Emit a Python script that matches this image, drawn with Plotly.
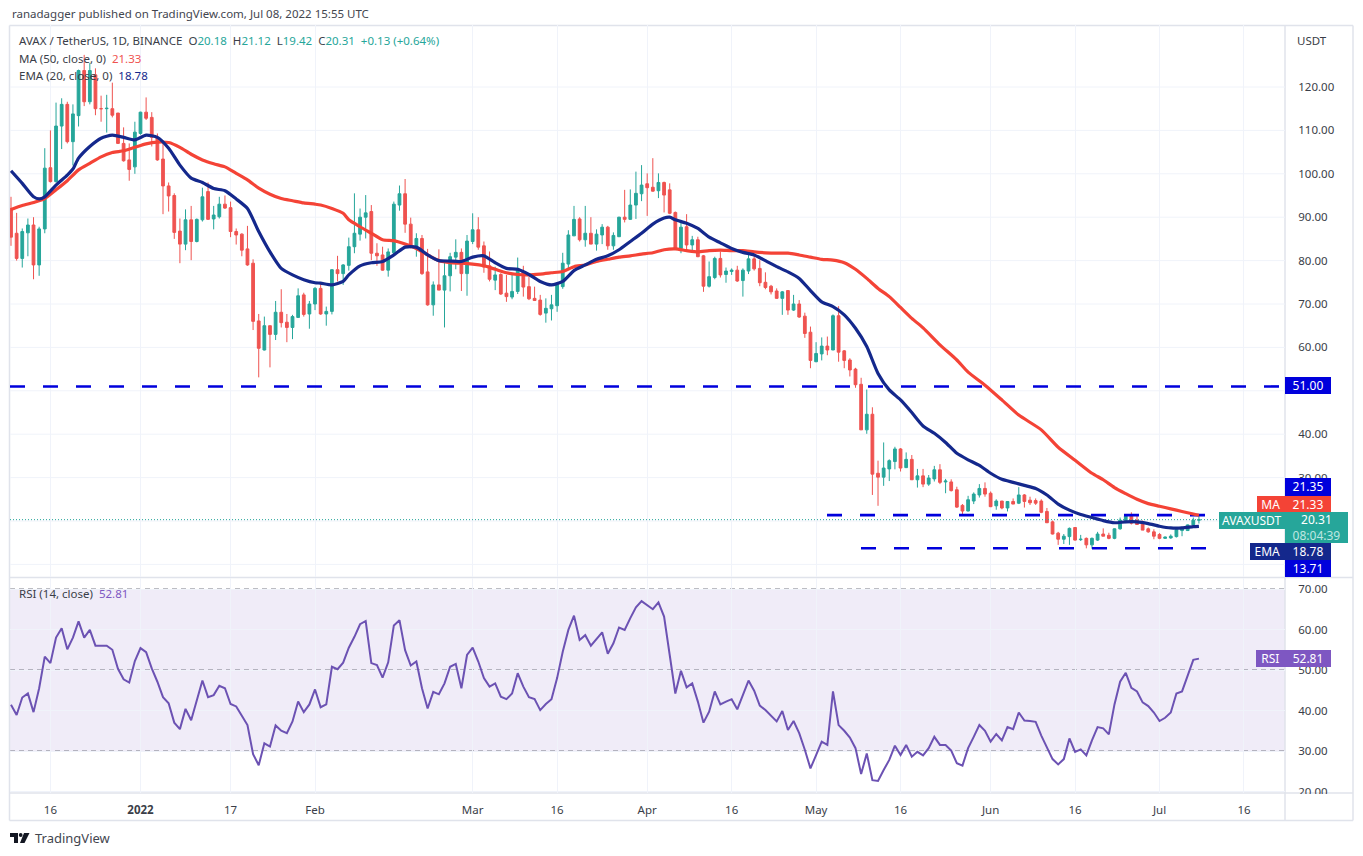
import pandas as pd
import plotly.graph_objects as go

W, H = 1363, 856

opens = [
92,86.3,80.5,86.4,88.2,79,87.3,101.4,98.2,111,
116,107.4,113.4,123.8,116.6,122.8,115,115,115,114,
107,103.2,101.6,109.3,114.2,113,108.4,103.4,97.2,95,
86.8,83.8,89.4,84.4,89.4,95.9,89.6,90.1,93,92.2,
86.7,86.1,82.7,79.4,66.1,59.4,65,63,68.1,65.8,
64.6,66.9,72.1,67.7,70,73.6,67.7,68.3,77.9,77,
78.9,83.2,86.1,90,91.3,81.7,81.3,77.8,81.8,92.8,
95.4,88.4,83.4,85.1,77.4,69.8,74.4,73.2,76.5,80.8,
81.9,77,84.4,87.1,83.4,78.8,75.5,76.8,72.5,71.6,
72.9,77.5,74,71.3,70.9,67.9,68.9,69.6,74,79.2,
85.7,89.6,84.8,86.3,83.8,85.9,87.7,83.4,85.5,90,
89.5,92.8,95.4,97.7,96.9,96.1,98,96.3,91.1,82.8,
87.8,83.6,84.8,81.1,74.1,76.1,80.5,76.8,77.5,77.8,
75.4,77.6,80.4,78.2,75,74.1,73,71.3,73.1,68.6,
70,67.2,63.5,56.7,58.5,60.3,59.4,67.3,59.2,57.1,
55,51.5,41,44.6,31,30.1,32,33.7,36.6,32.3,
34.2,29.5,30.4,28.5,29.7,31.8,29,29,27.2,23.6,
22.3,24.6,26,27.5,26.4,23.5,24.6,23,24.5,24.1,
26,24.8,24.7,24.6,22.2,19.8,17.2,15.8,16.4,18.5,
15.7,16,14.5,15.6,17,16.7,16,18.2,20.1,21.2,
20.2,19.5,18.2,17.5,16.9,16,16.1,16.4,17.8,17.8,
19.1,20.18]

highs = [
94.7,91,87.4,89.7,90,87.8,105.9,110,116.4,117.4,
116.6,116,124,127.4,125.5,124.3,118,118.2,121,114,
110.7,107,112,114.3,117.6,114.2,109.3,107,98,95.5,
89.7,91.8,92.6,89.7,96.8,98,92.6,94.7,95,93.6,
87.4,86.3,88,80.3,67.7,67.1,65,70.7,73.4,67.7,
67.5,73.6,72.6,70.7,73.9,74.6,69.4,78,81.1,79.2,
85.3,95.5,92,95.1,92.8,84,83.2,82.8,93.6,97.3,
98.8,89.9,86.3,85.9,82.7,75.2,82.6,79.8,81.8,84.9,
82.8,85.9,90.9,90,84.4,82.1,78.6,77.1,76.7,76.7,
80.7,78.8,76.2,74,72.1,71.3,72.1,74.8,81.8,87,
92.6,90,92.6,90,87.2,88.4,88,86.5,90.1,96.3,
96.4,100.5,102,100.1,103.6,100.1,98.2,97.8,91.3,89.2,
90.7,85.7,85.5,81.3,79.8,80.9,82.1,78.4,78.2,78.8,
78.2,81.3,81.3,80.1,77.3,74.4,73.6,73,73.2,72.1,
70.9,68,64.8,61.2,62.3,62.5,67.6,69.5,59.4,57.5,
55.3,53,50.3,46.2,33.9,38.1,34.2,37.1,36.8,35.8,
35.2,32,32,30.6,32.7,33.1,29.7,29.6,27.9,23.9,
25.8,26.6,28.5,28.9,26.8,25,24.6,24.6,25.2,27.8,
26.2,25.6,25.2,25,23,20.1,17.5,17,18.5,18.6,
16.8,16.2,16.2,17.5,18.3,17.3,18.3,20.8,21.4,22,
21.5,20.1,18.5,18.1,17.2,16.4,16.9,18.1,18.7,19.2,
20.8,21.12]

lows = [
83.4,80,78.4,81,75.7,76.5,86.3,98,98,105.7,
107,101.9,110.9,115.6,116,113.5,112,109.5,113,106.9,
102.8,98.4,100,109,112.4,106.3,103,90.7,91.3,85,
79.4,82.4,80.1,84.2,89,89.4,87.2,89.7,91.9,85.4,
83.7,81,78.8,64,53.1,59.3,55.4,61.7,64.6,61.2,
61.9,66.9,67.1,64.3,68.6,67.5,65,67.6,75.2,74.4,
77.7,81.7,84.6,85.1,80.1,78.8,77.7,76.3,81.3,91.5,
86.4,82.8,80.9,76.7,69.6,67.3,73.2,64.6,72.9,78,
73,71.9,83.8,82.5,77.2,75.2,73.2,72.1,70.5,71.1,
72.3,71.7,70.9,70.7,67.3,65.7,66.2,68.2,73.5,78.2,
85.7,84.4,83.2,83.8,82.3,83.8,82.5,82.5,85.5,88.8,
89.4,89.6,93.7,90.3,95.9,94.4,91.1,90.7,82.5,81.7,
82.6,82.4,80.8,72.8,73.8,75.7,76.1,74.9,76.7,75.1,
71.7,76.9,77.7,74.1,73.4,72.2,71.2,67.5,67.5,68.4,
66.8,62.2,55.2,56.6,57,58.2,59.4,56.7,55.2,53.3,
50.7,41,40.1,26,23.5,28.1,29.2,31.9,31.4,32.2,
29.5,27.7,27.8,28.1,29.1,28.5,26.4,26.8,23,21.4,
22.2,23.9,25.4,25.6,23.2,22.6,22.7,22.2,23.9,23.9,
23.1,23.7,23.7,21.8,19.6,16.9,14.5,14.7,14.5,15.5,
15.4,13.7,13.6,15.4,16.5,15.8,15.8,18,19.5,19.2,
19.1,17.9,17.3,15.8,15.8,15.9,15.9,16.2,16.5,17.7,
18.7,19.42]

closes = [
85.4,80.5,86.7,88.2,79,87.3,101.3,98.2,111,116,
107.4,113.8,123.8,116.6,123.8,115,115,115.1,113.5,107,
103,101,109.6,114.2,112.8,108.4,103.2,97.2,94.9,86.5,
83.8,89.4,84.4,89.5,94.7,89.5,90.5,93,92.1,86.7,
85.9,82.4,79,66,59.8,65,63,68.1,65.7,64.6,
67.1,71.9,67.6,70,73.6,67.7,68.3,77.9,77,79,
83.2,86.3,90,91,81.7,81.1,77.8,82,93,95.4,
88.4,83.6,85.1,77,69.8,74.4,73.2,76.5,80.9,81.9,
77,84.5,87.1,83.1,78.5,75.7,76.7,72.3,71.7,72.9,
78.2,73.9,71.2,70.8,67.6,69,69.8,74.4,79.4,85.9,
89.5,84.8,86.3,83.8,86.1,87.7,83.4,85.8,90,89.5,
92.8,95.5,97.4,96.8,96,98,95.1,90.9,82.8,87.7,
83.6,84.8,80.9,74.1,76.3,80.5,76.7,77.6,77.8,75.3,
77.8,80.4,78.1,74.9,73.8,72.8,71.3,72.8,68.6,70,
67,63.2,57,58.6,60.3,59.4,67.3,58.9,57,54.8,
51.4,41,44.6,30.8,30.1,32.2,33.9,36.6,32.2,34.2,
29.5,30.4,28.5,29.9,31.8,28.9,29.2,27,23.2,22.3,
24.9,26.2,27.5,26.2,23.3,24.6,23,24.5,23.9,26,
24.5,24.2,24.1,22,19.6,17,15.8,16.5,18.3,15.6,
15.8,14.5,16,17,16.5,16,18.2,20.2,21.2,19.5,
19.2,17.9,17.5,16.5,16,16.3,16.5,18,18.3,19.1,
20.2,20.31]

rsi_values = [
41.4,38.9,43.2,44.2,39.6,45.5,53.3,51.7,58,60.3,
55.1,58,62,58,59.9,56,56,56,55,50.3,
47.7,46.9,52.2,55.4,54.4,50.4,47.1,43.3,41.8,37,
35.4,40.4,37.6,42.6,47.4,43.3,43.8,46.1,45.5,41.6,
41,38.7,36.4,29.2,26.5,31.9,31.1,36.3,35,34.4,
37.3,42.2,39.6,41.5,45.2,40.8,41.5,50.8,50.2,51.8,
55.5,58.2,61.3,62.1,51.7,51.2,48.1,51.9,61,62.3,
54.9,51.1,52.1,45.5,40.5,44.6,44,46.7,50.8,51.5,
45.5,53.7,55.5,52.1,48,45.9,46.7,43.4,42.8,44.2,
49.2,45.9,43.3,42.8,40.1,41.6,42.8,48,54.5,59.9,
63.4,57.4,58.6,56,57.8,59.3,54,56.6,60.5,59.9,
62.8,65.5,67,66.1,65,66.7,63.2,53.7,44.2,49.8,
45.7,46.7,42.2,37,39.7,44.7,41.5,42.2,42.8,40.3,
43.7,47.4,44.9,41.2,40.1,38.6,37.3,39.9,35.2,37.4,
34.4,30.3,25.7,29,32.3,31.5,44.7,36.4,35,33.3,
30.7,24.3,29.4,22.8,22.6,25.3,27.8,31.3,29,31.5,
28.6,29.8,28.9,30.7,33.5,31.5,31.5,30.1,27,26.4,
30.7,33.5,36.4,35,32.3,34.2,32.6,35.9,35.4,39.5,
37.5,37.4,37.2,33.8,30.7,28,26.7,28,33.1,29.8,
30.4,28.9,32.6,35.9,35.6,34.1,41.5,47.1,49.3,45.6,
44.7,42,41.1,39.5,37.4,38.2,39.5,44.2,44.7,48.5,
52.5,52.81]

ema_days = [0,2,4,5,6,8,10,11,12,14,16,18,20,22,24,26,28,30,32,34,36,38,40,42,44,46,48,50,52,54,55,57,59,
            60,62,64,66,68,70,72,74,76,78,80,82,84,86,88,90,92,94,96,98,100,102,104,106,108,110,112,114,116,117,118,
            120,122,124,126,128,130,132,134,136,138,140,142,144,146,148,150,152,154,156,158,160,162,164,166,168,170,172,174,176,178,180,
            182,184,186,188,190,192,194,196,198,200,202,204,206,208,210,211]
ema_values = [100.7,97.8,94.7,94.2,94.7,97.4,99.7,101.1,103.6,106.3,108.2,108.9,108.4,107.8,108.9,108.4,105.9,102,99,98,96.6,96.1,94.2,92,86.7,82,78.2,76.7,75.6,74.9,74.8,74.4,75.2,
              76.7,78.8,79.5,79.8,81.3,83.1,83.1,81.3,80,79.9,79.8,80.8,81.1,79.5,78.2,78,76.8,75.2,74.4,75.2,77.7,79,80.3,81.1,82.5,84.4,86.3,88.4,89.8,90,89.4,
              88.6,87.4,85.4,84.1,82.8,81.9,81.3,80,78.6,77.4,75.9,73.1,70.5,69.4,67.5,64.4,60.2,54,50.2,47.9,45,41.9,40.2,38.1,35.6,34.1,32.8,31,29.6,28.9,28.2,
              27.5,26,23.9,22.5,21.5,20.8,20.1,19.6,19.8,19.8,19.4,18.8,18.4,18.4,18.7,18.78]

ma_days = [0,2,4,6,8,10,12,14,16,18,20,22,24,26,28,30,32,34,36,38,40,42,44,46,48,50,52,54,55,57,59,
           60,62,64,66,68,70,72,74,76,78,80,82,84,86,88,90,92,94,96,98,100,102,104,106,108,110,112,114,116,118,
           120,122,124,126,128,130,132,134,136,138,140,142,144,146,148,150,152,154,156,158,160,162,165,168,170,173,176,179,
           183,186,189,192,194,196,198,200,202,204,206,208,210,211]
ma_values = [91.8,92.7,93.4,94.3,96.3,98.4,100.9,102.4,103.9,104.9,105.3,106.1,106.9,107.3,107.2,106.1,104.5,103.2,102.3,101.6,100.1,98.6,96.7,95.3,94.3,93.8,93.3,93,92.8,92,90.9,
             89.4,87.8,86.3,84.8,84.6,83.8,82.8,81.3,80,79.5,79.4,79.2,78.8,78,77.2,76.8,76.7,76.9,77.2,77.5,78.6,79,79.8,80.3,80.8,81.1,81.5,81.8,82.5,82.7,
             82.3,82,82.3,82.4,82.3,82.3,82,81.8,81.7,81.7,81.3,80.8,80.3,80.1,79.5,78,75.9,73.6,71.7,69.2,66.7,64.5,60.6,57.1,54.3,51.3,47.9,44.4,
             41,37,34,31,29.5,27.7,26.3,25,24,23.4,22.8,22.2,21.6,21.33]

level_values = [51.00, 21.35, 13.71]
rsi_levels = [70, 50, 30]
tick_dates = ["2021-12-16","2022-01-01","2022-01-17","2022-02-01","2022-03-01","2022-03-16",
              "2022-04-01","2022-04-16","2022-05-01","2022-05-16","2022-06-01","2022-06-16",
              "2022-07-01","2022-07-16"]
tick_labels = ["16","<b>2022</b>","17","Feb","Mar","16","Apr","16","May","16","Jun","16","Jul","16"]

dates = pd.date_range("2021-12-09", periods=len(closes), freq="D")
start = dates[0]
PX_DAY = 5.63
X0, X1 = 10, 1285
def day(i):
    return (start + pd.Timedelta(days=float(i))).strftime("%Y-%m-%d %H:%M:%S")
def px_day(px):
    return (px - 11) / PX_DAY
x_range = [day(px_day(X0)), day(px_day(X1))]

def fx(px): return px / W
def fy(py): return 1 - py / H

FONT = "Noto Sans, Open Sans, sans-serif"
TXT = "#3a3e48"
GRID = "#f0f3fa"
BORDER = "#e0e3eb"
UP = "#26a69a"
DOWN = "#ef5350"
BLUE = "#0000dc"
NAVY = "#14288c"
RED = "#f44336"
PURPLE = "#7e57c2"

fig = go.Figure()
fig.add_trace(go.Candlestick(
    x=dates, open=opens, high=highs, low=lows, close=closes,
    increasing=dict(line=dict(color=UP, width=1), fillcolor=UP),
    decreasing=dict(line=dict(color=DOWN, width=1), fillcolor=DOWN),
    whiskerwidth=0, xaxis="x", yaxis="y", showlegend=False, hoverinfo="skip"))
fig.add_trace(go.Scatter(x=[x_range[0], x_range[1]], y=[closes[-1]]*2, mode="lines",
    line=dict(color=UP, width=1, dash="1px,2px"), xaxis="x", yaxis="y", showlegend=False, hoverinfo="skip"))
level_spans = [(px_day(10), px_day(1285)), (px_day(827), px_day(1205)), (px_day(861), px_day(1206))]
for v, (a, b) in zip(level_values, level_spans):
    fig.add_trace(go.Scatter(x=[day(a), day(b)], y=[v, v], mode="lines",
        line=dict(color=BLUE, width=2.6, dash="15px,18px"), xaxis="x", yaxis="y", showlegend=False, hoverinfo="skip"))
fig.add_trace(go.Scatter(x=[day(i) for i in ma_days], y=ma_values, mode="lines",
    line=dict(color=RED, width=3.2, shape="spline", smoothing=0.6), xaxis="x", yaxis="y", showlegend=False, hoverinfo="skip"))
fig.add_trace(go.Scatter(x=[day(i) for i in ema_days], y=ema_values, mode="lines",
    line=dict(color=NAVY, width=3.2, shape="spline", smoothing=0.6), xaxis="x", yaxis="y", showlegend=False, hoverinfo="skip"))
fig.add_trace(go.Scatter(x=dates, y=rsi_values, mode="lines",
    line=dict(color="#6c52b3", width=2), xaxis="x2", yaxis="y2", showlegend=False, hoverinfo="skip"))

shapes = []
shapes.append(dict(type="rect", xref="x2 domain", yref="y2", x0=0, x1=1, y0=rsi_levels[2], y1=rsi_levels[0],
                   fillcolor="rgba(126,87,194,0.115)", line_width=0, layer="below"))
for v in rsi_levels:
    shapes.append(dict(type="line", xref="x2 domain", yref="y2", x0=0, x1=1, y0=v, y1=v,
                       line=dict(color="#787b86", width=1, dash="5px,4px"), layer="below"))
def frame(x0, y0, x1, y1):
    shapes.append(dict(type="line", xref="paper", yref="paper", x0=fx(x0), x1=fx(x1), y0=fy(y0), y1=fy(y1),
                       line=dict(color=BORDER, width=1.5), layer="below"))
frame(9.5, 25.5, 1353, 25.5); frame(9.5, 820.5, 1353, 820.5)
frame(9.5, 25.5, 9.5, 820.5); frame(1353, 25.5, 1353, 820.5)
frame(1285, 25.5, 1285, 820.5); frame(9.5, 577.5, 1353, 577.5); frame(9.5, 793, 1353, 793)
# mask that clips the lowest RSI axis number at the pane edge
shapes.append(dict(type="rect", xref="paper", yref="paper", x0=fx(1286), x1=fx(1352), y0=fy(803), y1=fy(794),
                   fillcolor="#ffffff", line_width=0, layer="above"))

# TradingView logo
def pth(pts):
    return "M" + " L".join(f"{fx(x):.5f},{fy(y):.5f}" for x, y in pts) + " Z"
logo = "#131722"
shapes.append(dict(type="path", xref="paper", yref="paper", path=pth([(10,833),(18,833),(18,843),(14,843),(14,837),(10,837)]),
                   fillcolor=logo, line_width=0))
shapes.append(dict(type="path", xref="paper", yref="paper", path=pth([(24,833),(29.5,833),(24.5,843),(20,843)]),
                   fillcolor=logo, line_width=0))
shapes.append(dict(type="circle", xref="paper", yref="paper", x0=fx(18.8), x1=fx(22.6), y0=fy(837), y1=fy(833),
                   fillcolor=logo, line_width=0))

ann = []
def text(x, y, s, size=12, color=TXT, anchor="left"):
    ann.append(dict(x=fx(x), y=fy(y), xref="paper", yref="paper", text=s, showarrow=False,
                    xanchor=anchor, yanchor="middle", align=anchor,
                    font=dict(family=FONT, size=size, color=color)))
def box(x0, y0, x1, y1, s, bg, color="#ffffff", size=12):
    ann.append(dict(x=fx(x0), y=fy(y0), xref="paper", yref="paper", text=s, showarrow=False,
                    xanchor="left", yanchor="top", align="center", valign="middle",
                    width=x1 - x0, height=y1 - y0, bgcolor=bg, borderpad=0, borderwidth=0,
                    font=dict(family=FONT, size=size, color=color)))

text(10, 14, "ranadagger published on TradingView.com, Jul 08, 2022 15:55 UTC", 11.5, "#43464f")
T = UP
text(17, 41, (f"AVAX / TetherUS, 1D, BINANCE  O<span style='color:{T}'>20.18</span>  H<span style='color:{T}'>21.12</span>"
              f"  L<span style='color:{T}'>19.42</span>  C<span style='color:{T}'>20.31</span>"
              f"  <span style='color:{T}'>+0.13 (+0.64%)</span>"), 11.5)
text(17, 58.5, f"MA (50, close, 0)  <span style='color:{DOWN}'>21.33</span>", 11.5)
text(17, 75.5, f"EMA (20, close, 0)  <span style='color:{NAVY}'>18.78</span>", 11.5)
text(17, 593, f"RSI (14, close)  <span style='color:{PURPLE}'>52.81</span>", 11.5)
text(1295, 41, "USDT", 11.5)
text(33, 838, "TradingView", 13, "#43464f")

box(1285, 377, 1331, 394, "51.00", BLUE)
box(1285, 478, 1331, 495.5, "21.35", BLUE)
box(1257, 496, 1284.5, 512, "MA", RED)
box(1285, 495.5, 1331, 512, "21.33", RED)
box(1219, 512, 1284.5, 529, "AVAXUSDT", UP)
box(1285, 512, 1348, 543, "20.31<br><span style='color:#bfe6e1'>08:04:39</span>", UP)
box(1250, 543, 1284.5, 560, "EMA", NAVY)
box(1285, 543, 1331, 560, "18.78", NAVY)
box(1285, 560, 1331, 577, "13.71", BLUE)
box(1256, 650, 1284.5, 667, "RSI", PURPLE)
box(1285, 650, 1331, 667, "52.81", PURPLE)

axis_font = dict(family=FONT, size=11.5, color=TXT)
fig.update_layout(
    width=W, height=H, autosize=False, margin=dict(l=0, r=0, t=0, b=0, pad=0, autoexpand=False),
    paper_bgcolor="#ffffff", plot_bgcolor="#ffffff", showlegend=False, hovermode=False,
    xaxis=dict(domain=[fx(X0), fx(X1)], range=x_range, type="date", anchor="y", rangeslider=dict(visible=False),
               tickvals=tick_dates, ticktext=[""]*len(tick_dates), showgrid=True, gridcolor=GRID, gridwidth=1,
               ticks="", showline=False, zeroline=False, automargin=False),
    yaxis=dict(domain=[fy(577), fy(25)], range=[120 - (577 - 87) / 4.34, 120 + (87 - 25) / 4.34],
               anchor="x", side="right", tickvals=[30,40,60,70,80,90,100,110,120], tickformat=".2f",
               ticks="outside", ticklen=10, tickcolor="rgba(0,0,0,0)", tickfont=axis_font,
               showgrid=False, zeroline=False, showline=False, automargin=False),
    xaxis2=dict(domain=[fx(X0), fx(X1)], range=x_range, type="date", anchor="y2",
                tickvals=tick_dates, ticktext=tick_labels, tickangle=0, showgrid=True, gridcolor=GRID, gridwidth=1,
                ticks="outside", ticklen=6, tickcolor="rgba(0,0,0,0)", tickfont=dict(family=FONT, size=11.5, color=TXT),
                showline=False, zeroline=False, automargin=False),
    yaxis2=dict(domain=[fy(793), fy(578)], range=[70 - (793 - 589) / 4.05, 70 + (589 - 578) / 4.05],
                anchor="x2", side="right", tickvals=[20,30,40,50,60,70], tickformat=".2f",
                ticks="outside", ticklen=10, tickcolor="rgba(0,0,0,0)", tickfont=axis_font,
                showgrid=True, gridcolor=GRID, gridwidth=1, zeroline=False, showline=False, automargin=False),
    shapes=shapes + [dict(type="line", xref="x domain", yref="y", x0=0, x1=1, y0=v, y1=v,
                          line=dict(color=GRID, width=1), layer="below")
                     for v in [10,20,30,40,50,60,70,80,90,100,110,120]],
    annotations=ann,
)
fig.write_html("out.html", default_width="1363px", default_height="856px",
               post_script="document.body.style.margin='0';document.body.style.overflow='hidden';",
               config=dict(displayModeBar=False, responsive=False))
